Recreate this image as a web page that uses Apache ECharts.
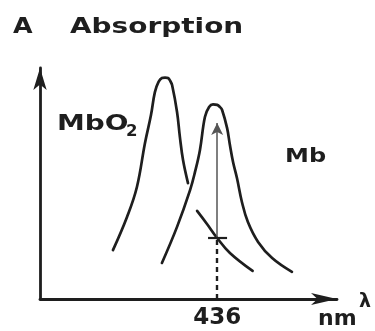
<!DOCTYPE html>
<html>
<head>
<meta charset="utf-8">
<script src="https://cdn.jsdelivr.net/npm/echarts@6/dist/echarts.min.js"></script>
<style>
  html, body { margin: 0; padding: 0; background: #ffffff; }
  #chart { width: 375px; height: 331px; }
</style>
</head>
<body>
<div id="chart"></div>
<script>
// Soret band absorption of oxymyoglobin (MbO2) and deoxymyoglobin (Mb)
// wavelength in nm, absorbance in arbitrary units; '-' breaks the line
const mbo2Nm = [396.0, 401.4, 405.2, 408.3, 410.6, 412.1, 413.5, 414.8, 416.0, 417.1, 418.0, 418.7,
                420.6, 421.7, 422.9, 424.8, 426.5, 428.3, 432.1, 436.0, 440.9, 449.6];
const mbo2A  = [20.2, 33.9, 46.3, 64.5, 76.0, 85.5, 89.7, 91.3, 91.5, 91.3, 90.1, 88.4,
                77.3, 66.9, 57.4, 47.9, '-', 36.4, 31.0, 25.2, 19.0, 11.6];

const mbNm = [414.8, 420.6, 425.6, 427.5, 429.4, 431.3, 432.9, 434.4, 436.0, 437.1, 437.9,
              439.8, 440.9, 442.1, 443.6, 445.5, 447.8, 451.7, 457.1, 464.7];
const mbA  = [14.9, 29.8, 45.0, 52.5, 61.6, 75.2, 79.3, 80.4, 80.2, 79.3, 78.1,
              70.7, 63.6, 56.6, 50.0, 40.1, 31.8, 23.6, 16.9, 11.2];

// marked wavelength and the absorbance readings used by the arrow
const markNm = 436;
const tickLabels = [436];
const markLow = 25.2;   // MbO2 tail at 436 nm
const markHigh = 72.7;  // arrow head near the Mb maximum

const ink = '#1e1e1e';
const pairs = (xs, ys) => xs.map((x, i) => [x, ys[i]]);

const chart = echarts.init(document.getElementById('chart'), null, { renderer: 'canvas' });

const bold = (size) => 'bold ' + size + 'px "DejaVu Sans"';
const txt = (text, x, y, size, sx) => ({
  type: 'text', x: x, y: y, scaleX: sx || 1, silent: true,
  style: { text: text, font: bold(size), fill: ink, align: 'left', verticalAlign: 'middle' }
});

chart.setOption({
  animation: false,
  backgroundColor: '#ffffff',
  grid: { left: 40, right: 38, top: 68, bottom: 32 },
  xAxis: {
    type: 'value', min: 368, max: 482,
    axisLine: { show: true, symbol: ['none', 'arrow'], symbolSize: [9, 26],
                lineStyle: { color: ink, width: 2.8 } },
    axisTick: { show: false },
    splitLine: { show: false },
    axisLabel: {
      customValues: tickLabels, margin: 8,
      color: ink, fontSize: 23, fontWeight: 'bold', fontFamily: 'DejaVu Sans'
    }
  },
  yAxis: {
    type: 'value', min: 0, max: 95.45,
    axisLine: { show: true, symbol: ['none', 'arrow'], symbolSize: [10, 22],
                lineStyle: { color: ink, width: 2.8 } },
    axisTick: { show: false },
    axisLabel: { show: false },
    splitLine: { show: false }
  },
  series: [
    {
      name: 'MbO2', type: 'line', data: pairs(mbo2Nm, mbo2A),
      smooth: 0.4, symbol: 'none', connectNulls: false, silent: true,
      lineStyle: { color: ink, width: 2.7, cap: 'round', join: 'round' }
    },
    {
      name: 'Mb', type: 'line', data: pairs(mbNm, mbA),
      smooth: 0.4, symbol: 'none', silent: true,
      lineStyle: { color: ink, width: 2.7, cap: 'round', join: 'round' },
      markLine: {
        silent: true, symbol: ['none', 'none'], label: { show: false },
        data: [
          [ { coord: [markNm, 0], lineStyle: { type: [5, 4], width: 2.4, color: ink } },
            { coord: [markNm, markLow] } ],
          [ { coord: [markNm, markLow], lineStyle: { type: 'solid', width: 1.5, color: '#555' } },
            { coord: [markNm, markHigh], symbol: 'arrow', symbolSize: [9, 12],
              itemStyle: { color: ink } } ],
          [ { coord: [markNm - 3.5, markLow], lineStyle: { type: 'solid', width: 2.2, color: ink } },
            { coord: [markNm + 3.8, markLow] } ]
        ]
      }
    }
  ],
  graphic: [
    txt('A', 13, 27, 22, 1.15),
    txt('Absorption', 70, 27, 22, 1.27),
    txt('MbO', 57, 124, 22, 1.27),
    txt('2', 126, 132, 15, 1.1),
    txt('Mb', 285, 157, 20, 1.2),
    txt('nm', 318, 319, 22, 1.0),
    txt('λ', 359, 302, 19, 1.0)
  ]
});
</script>
</body>
</html>
